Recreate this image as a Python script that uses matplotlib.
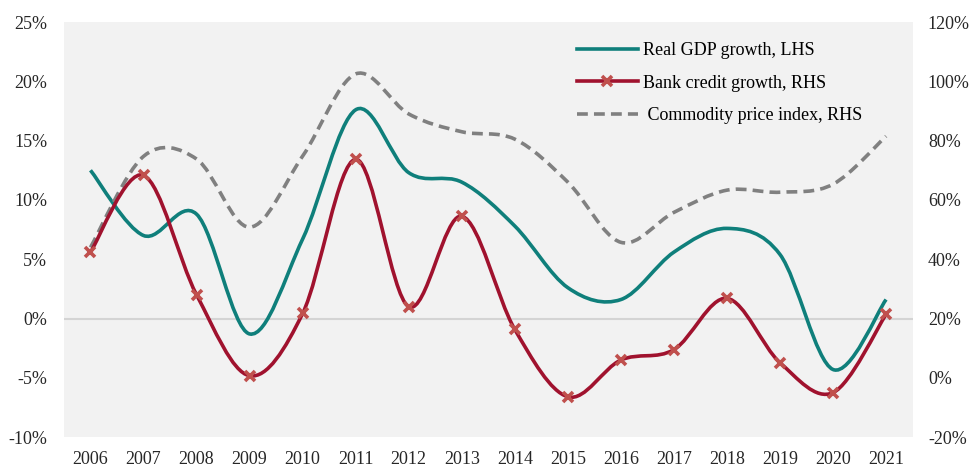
import numpy as np
import matplotlib.pyplot as plt
from matplotlib.path import Path
from matplotlib.patches import PathPatch
from matplotlib.lines import Line2D
from matplotlib.ticker import FuncFormatter

years = list(range(2006, 2022))
gdp_growth = [12.5, 7.0, 8.8, -1.3, 6.7, 17.6, 12.3, 11.5, 7.8, 2.6, 1.6, 5.6, 7.6, 5.4, -4.3, 1.6]
credit_growth = [42.4, 68.3, 28.0, 0.7, 21.7, 73.7, 24.0, 54.5, 16.3, -6.4, 6.0, 9.5, 26.8, 5.1, -5.0, 21.4]
commodity_idx = [44.0, 74.7, 73.8, 50.8, 74.8, 102.5, 89.0, 83.0, 80.5, 66.0, 45.7, 55.8, 63.3, 62.6, 65.3, 81.5]

plt.rcParams['font.family'] = ['Liberation Serif', 'DejaVu Serif']


def smooth_path(x, y):
    # cubic bezier through the points, Excel-style smoothing
    pts = np.column_stack([x, y]).astype(float)
    n = len(pts)
    verts = [pts[0]]
    codes = [Path.MOVETO]
    for i in range(n - 1):
        p0 = pts[max(i - 1, 0)]
        p1 = pts[i]
        p2 = pts[i + 1]
        p3 = pts[min(i + 2, n - 1)]
        c1 = p1 + (p2 - p0) / 6.0
        c2 = p2 - (p3 - p1) / 6.0
        verts += [c1, c2, p2]
        codes += [Path.CURVE4] * 3
    return Path(verts, codes)


teal = '#0f7f7b'
wine = '#a0122e'
cross = '#c0504d'
grey = '#808080'
dash = (0, (3, 1.7))

fig = plt.figure(figsize=(9.75, 4.69), dpi=100)
ax = fig.add_axes([0.0656, 0.068, 0.8704, 0.885])
ax.set_facecolor('#f2f2f2')
ax2 = ax.twinx()

ax.set_xlim(2005.5, 2021.5)
ax.set_ylim(-10, 25)
ax2.set_ylim(-20, 120)

ax.axhline(0, color='#d4d4d4', lw=1.5, zorder=1)

ax2.add_patch(PathPatch(smooth_path(years, commodity_idx), fill=False,
                        edgecolor=grey, lw=2.6, linestyle=dash, zorder=2))
ax.add_patch(PathPatch(smooth_path(years, gdp_growth), fill=False,
                       edgecolor=teal, lw=2.6, zorder=3))
ax2.add_patch(PathPatch(smooth_path(years, credit_growth), fill=False,
                        edgecolor=wine, lw=2.6, zorder=4))
ax2.plot(years, credit_growth, linestyle='none', marker='x', ms=7.5,
         mew=2.6, color=cross, zorder=5)

ax.set_yticks(np.arange(-10, 26, 5))
ax2.set_yticks(np.arange(-20, 121, 20))
ax.set_xticks(years)
ax.yaxis.set_major_formatter(FuncFormatter(lambda v, p: f'{v:.0f}%'))
ax2.yaxis.set_major_formatter(FuncFormatter(lambda v, p: f'{v:.0f}%'))

for a in (ax, ax2):
    for s in a.spines.values():
        s.set_visible(False)
    a.tick_params(length=0, labelsize=13, colors='#262626')
ax.tick_params(axis='y', pad=12)
ax2.tick_params(axis='y', pad=11)
ax.tick_params(axis='x', pad=10)

handles = [
    Line2D([], [], color=teal, lw=2.6),
    Line2D([], [], color=wine, lw=2.6, marker='x', ms=7.5, mew=2.6, mec=cross),
    Line2D([], [], color=grey, lw=2.6, linestyle=dash),
]
labels = ['Real GDP growth, LHS', 'Bank credit growth, RHS', ' Commodity price index, RHS']
ax2.legend(handles, labels, loc='upper left', bbox_to_anchor=(0.585, 0.99),
           frameon=False, fontsize=13, handlelength=3.4, handletextpad=0.3,
           labelspacing=0.85)

fig.savefig('out.png', dpi=100)
